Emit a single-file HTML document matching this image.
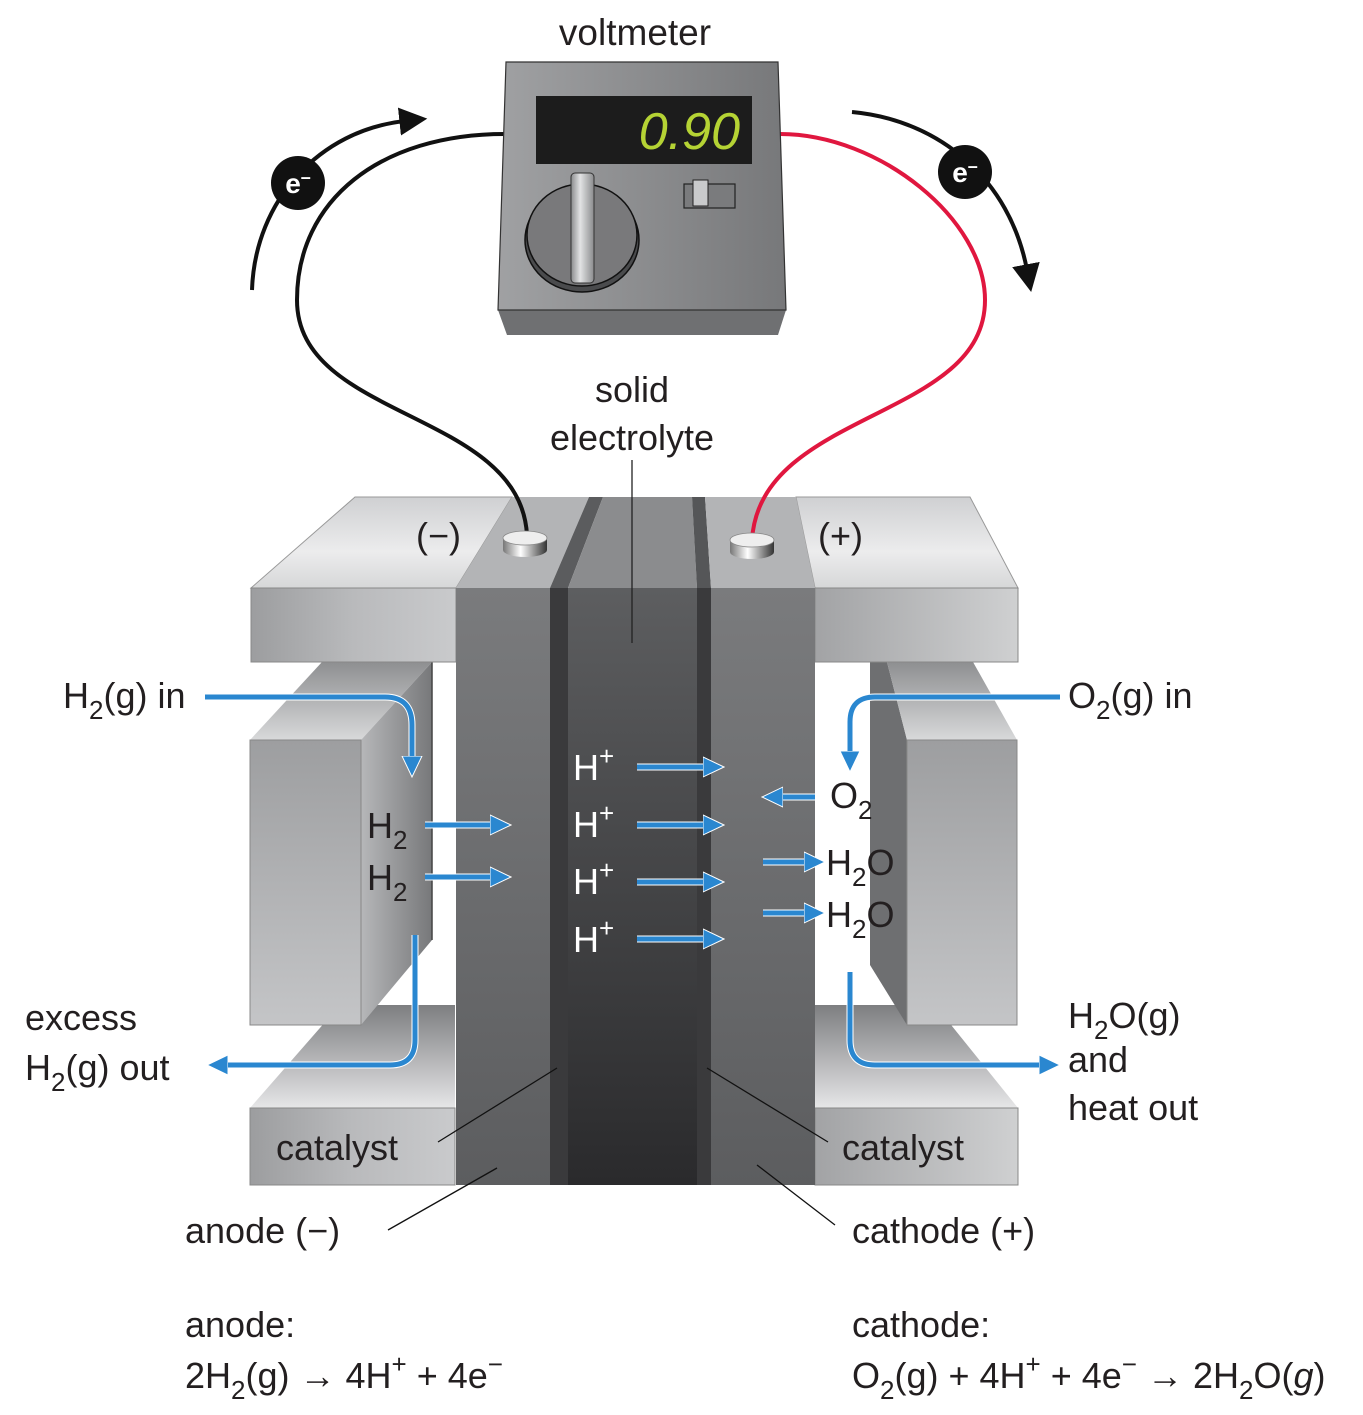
<!DOCTYPE html>
<html><head><meta charset="utf-8"><style>
html,body{margin:0;padding:0;background:#fff;}
svg{display:block;}
text{font-family:"Liberation Sans",sans-serif;fill:#231f20;}
</style></head><body>
<svg width="1363" height="1415" viewBox="0 0 1363 1415" xmlns="http://www.w3.org/2000/svg">
<defs>
<linearGradient id="slabTop" x1="0" y1="0" x2="0" y2="1"><stop offset="0" stop-color="#cfd0d2"/><stop offset="0.6" stop-color="#ececed"/><stop offset="1" stop-color="#d6d7d8"/></linearGradient>
<linearGradient id="slabFront" x1="0" y1="0" x2="1" y2="0"><stop offset="0" stop-color="#9c9d9f"/><stop offset="0.5" stop-color="#b9babc"/><stop offset="1" stop-color="#c9cacc"/></linearGradient>
<linearGradient id="slabFrontR" x1="0" y1="0" x2="1" y2="0"><stop offset="0" stop-color="#a2a3a5"/><stop offset="1" stop-color="#cfd0d1"/></linearGradient>
<linearGradient id="boxFront" x1="0" y1="0" x2="0" y2="1"><stop offset="0" stop-color="#9d9ea0"/><stop offset="1" stop-color="#c4c5c7"/></linearGradient>
<linearGradient id="boxSide" x1="0" y1="0" x2="1" y2="0"><stop offset="0" stop-color="#b6b7b9"/><stop offset="1" stop-color="#77787a"/></linearGradient>
<linearGradient id="boxTop" x1="0" y1="1" x2="0" y2="0"><stop offset="0" stop-color="#d8d9da"/><stop offset="1" stop-color="#8e8f91"/></linearGradient>
<linearGradient id="botTop" x1="0" y1="0" x2="0" y2="1"><stop offset="0" stop-color="#7d7e80"/><stop offset="1" stop-color="#e6e6e7"/></linearGradient>
<linearGradient id="elec" x1="0" y1="0" x2="0" y2="1"><stop offset="0" stop-color="#5d5e60"/><stop offset="1" stop-color="#2a2a2c"/></linearGradient>
<linearGradient id="anode" x1="0" y1="0" x2="0" y2="1"><stop offset="0" stop-color="#7a7b7d"/><stop offset="1" stop-color="#5c5d5f"/></linearGradient>
<linearGradient id="meter" x1="0" y1="0" x2="1" y2="0"><stop offset="0" stop-color="#a0a1a3"/><stop offset="1" stop-color="#77787a"/></linearGradient>
<linearGradient id="cyl" x1="0" y1="0" x2="1" y2="0"><stop offset="0" stop-color="#777"/><stop offset="0.4" stop-color="#fff"/><stop offset="1" stop-color="#333"/></linearGradient>
<linearGradient id="handle" x1="0" y1="0" x2="1" y2="0"><stop offset="0" stop-color="#8a8b8d"/><stop offset="0.4" stop-color="#e2e3e4"/><stop offset="1" stop-color="#8a8b8d"/></linearGradient>
<marker id="ah" viewBox="0 0 22 22" refX="1" refY="11" markerWidth="22" markerHeight="22" markerUnits="userSpaceOnUse" orient="auto"><path d="M0,1 L21,11 L0,21 z" fill="#2a87d0" stroke="#fff" stroke-width="1"/></marker>
<marker id="bk" viewBox="0 0 10 10" refX="2" refY="5" markerWidth="7" markerHeight="7" orient="auto"><path d="M0,0 L10,5 L0,10 z" fill="#111"/></marker>
</defs>

<!-- left boxes -->
<polygon points="250,1108 340,1005 455,1005 455,1108" fill="url(#botTop)"/>
<polygon points="250,740 322,662 432,662 361,740" fill="url(#boxTop)"/>
<polygon points="361,740 432,662 432,940 361,1025" fill="url(#boxSide)"/>
<line x1="432" y1="662" x2="432" y2="940" stroke="#444" stroke-width="1.5"/>
<rect x="250" y="740" width="111" height="285" fill="url(#boxFront)" stroke="#888" stroke-width="1"/>
<rect x="250" y="1108" width="205" height="77" fill="url(#slabFront)" stroke="#888" stroke-width="1"/>

<!-- right boxes -->
<polygon points="815,1005 935,1005 1018,1108 815,1108" fill="url(#botTop)"/>
<polygon points="870,662 887,662 907,740 907,1025 870,965" fill="#6e6f71"/>
<polygon points="887,662 973,662 1017,740 907,740" fill="url(#boxTop)"/>
<rect x="907" y="740" width="110" height="285" fill="url(#boxFront)" stroke="#888" stroke-width="1"/>
<rect x="815" y="1108" width="203" height="77" fill="url(#slabFrontR)" stroke="#888" stroke-width="1"/>

<!-- top slabs -->
<polygon points="251,588 355,497 512,497 456,588" fill="url(#slabTop)" stroke="#999" stroke-width="1"/>
<rect x="251" y="588" width="205" height="74" fill="url(#slabFront)" stroke="#888" stroke-width="1"/>
<polygon points="815,588 796,497 970,497 1018,588" fill="url(#slabTop)" stroke="#999" stroke-width="1"/>
<rect x="815" y="588" width="203" height="74" fill="url(#slabFrontR)" stroke="#888" stroke-width="1"/>

<!-- center column -->
<polygon points="456,588 512,497 589,497 550,588" fill="#b3b4b6"/>
<polygon points="550,588 589,497 603,497 568,588" fill="#5b5c5e"/>
<polygon points="568,588 603,497 692,497 697,588" fill="#8b8c8e"/>
<polygon points="697,588 692,497 705,497 711,588" fill="#555658"/>
<polygon points="711,588 705,497 796,497 815,588" fill="#b3b4b6"/>
<rect x="456" y="588" width="94" height="597" fill="url(#anode)"/>
<rect x="550" y="588" width="18" height="597" fill="#3a3a3c"/>
<rect x="568" y="588" width="129" height="597" fill="url(#elec)"/>
<rect x="697" y="588" width="14" height="597" fill="#3a3a3c"/>
<rect x="711" y="588" width="104" height="597" fill="url(#anode)"/>
<line x1="632" y1="460" x2="632" y2="643" stroke="#222" stroke-width="1.3"/>

<!-- wires -->
<path d="M505,134 C380,134 297,200 297,300 C297,420 520,410 527,535" fill="none" stroke="#111" stroke-width="4"/>
<path d="M780,134 C880,134 985,220 985,300 C985,420 760,410 752,540" fill="none" stroke="#e0173f" stroke-width="4"/>
<rect x="503" y="538" width="44" height="12" fill="url(#cyl)"/>
<ellipse cx="525" cy="550" rx="22" ry="7" fill="url(#cyl)"/>
<ellipse cx="525" cy="538" rx="22" ry="7" fill="#eee" stroke="#888" stroke-width="0.8"/>
<rect x="730" y="540" width="44" height="12" fill="url(#cyl)"/>
<ellipse cx="752" cy="552" rx="22" ry="7" fill="url(#cyl)"/>
<ellipse cx="752" cy="540" rx="22" ry="7" fill="#eee" stroke="#888" stroke-width="0.8"/>

<!-- voltmeter -->
<polygon points="498,310 786,310 778,335 507,335" fill="#6f7072"/>
<polygon points="506,62 778,62 786,310 498,310" fill="url(#meter)" stroke="#333" stroke-width="1.2"/>
<rect x="536" y="96" width="216" height="68" fill="#1c1c1c"/>
<text x="740" y="149" font-size="52" font-style="italic" text-anchor="end" style="fill:#b5d334">0.90</text>
<ellipse cx="582" cy="240" rx="57" ry="52" fill="#4a4b4d" stroke="#111" stroke-width="1.5"/>
<ellipse cx="582" cy="235" rx="55" ry="51" fill="#79797b" stroke="#111" stroke-width="1.5"/>
<rect x="571" y="173" width="23" height="110" rx="4" fill="url(#handle)" stroke="#333" stroke-width="1"/>
<rect x="684" y="184" width="51" height="24" fill="#7a7b7d" stroke="#222" stroke-width="1.2"/>
<rect x="693" y="180" width="15" height="26" fill="#c9cacc" stroke="#222" stroke-width="1"/>
<text x="635" y="45" font-size="37" text-anchor="middle">voltmeter</text>

<!-- electron arrows -->
<path d="M252,290 C255,200 320,130 405,121" fill="none" stroke="#111" stroke-width="4" marker-end="url(#bk)"/>
<path d="M852,112 C940,120 1010,180 1027,270" fill="none" stroke="#111" stroke-width="4" marker-end="url(#bk)"/>
<circle cx="298" cy="183" r="27" fill="#111"/>
<text x="298" y="193" font-size="28" font-weight="bold" text-anchor="middle" style="fill:#fff">e<tspan dy="-10" font-size="18">–</tspan></text>
<circle cx="965" cy="172" r="27" fill="#111"/>
<text x="965" y="182" font-size="28" font-weight="bold" text-anchor="middle" style="fill:#fff">e<tspan dy="-10" font-size="18">–</tspan></text>

<!-- blue arrows -->
<g fill="none">
<g stroke="#fff" stroke-width="7">
<path d="M205,697 L385,697 Q412,697 412,725 L412,757"/>
<path d="M415,935 L415,1040 Q415,1065 390,1065 L227,1065"/>
<path d="M1060,697 L875,697 Q850,697 850,722 L850,752"/>
<path d="M850,972 L850,1040 Q850,1065 875,1065 L1040,1065"/>
<path d="M425,825 L491,825"/><path d="M425,877 L491,877"/>
<path d="M637,767 L704,767"/><path d="M637,825 L704,825"/><path d="M637,882 L704,882"/><path d="M637,939 L704,939"/>
<path d="M815,797 L782,797"/><path d="M763,862 L805,862"/><path d="M763,913 L805,913"/>
</g>
<g stroke="#2a87d0" stroke-width="5">
<path d="M205,697 L385,697 Q412,697 412,725 L412,757" marker-end="url(#ah)"/>
<path d="M415,935 L415,1040 Q415,1065 390,1065 L227,1065" marker-end="url(#ah)"/>
<path d="M1060,697 L875,697 Q850,697 850,722 L850,752" marker-end="url(#ah)"/>
<path d="M850,972 L850,1040 Q850,1065 875,1065 L1040,1065" marker-end="url(#ah)"/>
<path d="M425,825 L491,825" marker-end="url(#ah)"/><path d="M425,877 L491,877" marker-end="url(#ah)"/>
<path d="M637,767 L704,767" marker-end="url(#ah)"/><path d="M637,825 L704,825" marker-end="url(#ah)"/><path d="M637,882 L704,882" marker-end="url(#ah)"/><path d="M637,939 L704,939" marker-end="url(#ah)"/>
<path d="M815,797 L782,797" marker-end="url(#ah)"/><path d="M763,862 L805,862" marker-end="url(#ah)"/><path d="M763,913 L805,913" marker-end="url(#ah)"/>
</g>
</g>

<!-- pointer lines -->
<g stroke="#111" stroke-width="1.3">
<line x1="438" y1="1142" x2="557" y2="1068"/>
<line x1="828" y1="1142" x2="707" y2="1068"/>
<line x1="388" y1="1230" x2="497" y2="1168"/>
<line x1="835" y1="1225" x2="757" y2="1165"/>
</g>

<!-- labels -->
<g font-size="36">
<text x="632" y="402" text-anchor="middle">solid</text>
<text x="632" y="450" text-anchor="middle">electrolyte</text>
<text x="416" y="548">(−)</text>
<text x="818" y="548">(+)</text>
<text x="63" y="708">H<tspan dy="11" font-size="26">2</tspan><tspan dy="-11">(g) in</tspan></text>
<text x="1068" y="708">O<tspan dy="11" font-size="26">2</tspan><tspan dy="-11">(g) in</tspan></text>
<text x="367" y="838">H<tspan dy="11" font-size="26">2</tspan></text>
<text x="367" y="890">H<tspan dy="11" font-size="26">2</tspan></text>
<text x="573" y="780" style="fill:#fff">H<tspan dy="-15" font-size="26" style="fill:#fff">+</tspan></text>
<text x="573" y="837" style="fill:#fff">H<tspan dy="-15" font-size="26" style="fill:#fff">+</tspan></text>
<text x="573" y="894" style="fill:#fff">H<tspan dy="-15" font-size="26" style="fill:#fff">+</tspan></text>
<text x="573" y="952" style="fill:#fff">H<tspan dy="-15" font-size="26" style="fill:#fff">+</tspan></text>
<text x="830" y="808">O<tspan dy="11" font-size="26">2</tspan></text>
<text x="826" y="875">H<tspan dy="11" font-size="26">2</tspan><tspan dy="-11">O</tspan></text>
<text x="826" y="927">H<tspan dy="11" font-size="26">2</tspan><tspan dy="-11">O</tspan></text>
<text x="25" y="1030">excess</text>
<text x="25" y="1080">H<tspan dy="11" font-size="26">2</tspan><tspan dy="-11">(g) out</tspan></text>
<text x="1068" y="1028">H<tspan dy="11" font-size="26">2</tspan><tspan dy="-11">O(g)</tspan></text>
<text x="1068" y="1072">and</text>
<text x="1068" y="1120">heat out</text>
<text x="276" y="1160">catalyst</text>
<text x="842" y="1160">catalyst</text>
<text x="185" y="1243">anode (−)</text>
<text x="852" y="1243">cathode (+)</text>
<text x="185" y="1337">anode:</text>
<text x="185" y="1388">2H<tspan dy="11" font-size="26">2</tspan><tspan dy="-11">(g) → 4H</tspan><tspan dy="-15" font-size="26">+</tspan><tspan dy="15"> + 4e</tspan><tspan dy="-15" font-size="26">−</tspan></text>
<text x="852" y="1337">cathode:</text>
<text x="852" y="1388">O<tspan dy="11" font-size="26">2</tspan><tspan dy="-11">(g) + 4H</tspan><tspan dy="-15" font-size="26">+</tspan><tspan dy="15"> + 4e</tspan><tspan dy="-15" font-size="26">−</tspan><tspan dy="15"> → 2H</tspan><tspan dy="11" font-size="26">2</tspan><tspan dy="-11">O(</tspan><tspan font-style="italic">g</tspan><tspan>)</tspan></text>
</g>
</svg>
</body></html>
